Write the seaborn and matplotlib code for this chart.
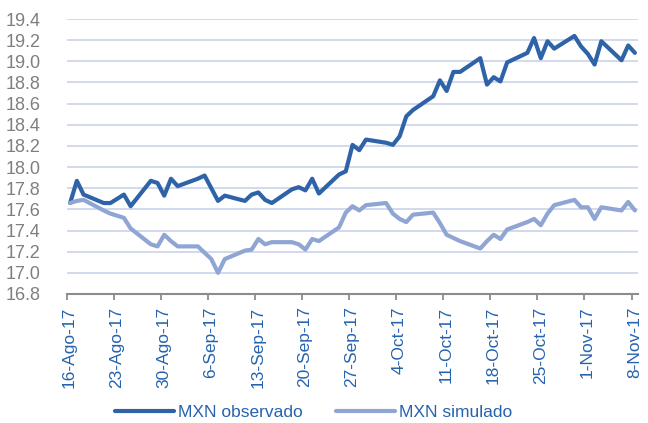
import pandas as pd
import matplotlib
matplotlib.use("Agg")
import matplotlib.pyplot as plt
import matplotlib.transforms as mtransforms
import seaborn as sns

# business days shown in the chart
dates = pd.to_datetime([
    "2017-08-16", "2017-08-17", "2017-08-18", "2017-08-21", "2017-08-22", "2017-08-23",
    "2017-08-24", "2017-08-25", "2017-08-28", "2017-08-29", "2017-08-30", "2017-08-31",
    "2017-09-01", "2017-09-04", "2017-09-05", "2017-09-06", "2017-09-07", "2017-09-08",
    "2017-09-11", "2017-09-12", "2017-09-13", "2017-09-14", "2017-09-15", "2017-09-18",
    "2017-09-19", "2017-09-20", "2017-09-21", "2017-09-22", "2017-09-25", "2017-09-26",
    "2017-09-27", "2017-09-28", "2017-09-29", "2017-10-02", "2017-10-03", "2017-10-04",
    "2017-10-05", "2017-10-06", "2017-10-09", "2017-10-10", "2017-10-11", "2017-10-12",
    "2017-10-13", "2017-10-16", "2017-10-17", "2017-10-18", "2017-10-19", "2017-10-20",
    "2017-10-23", "2017-10-24", "2017-10-25", "2017-10-26", "2017-10-27", "2017-10-30",
    "2017-10-31", "2017-11-01", "2017-11-02", "2017-11-03", "2017-11-06", "2017-11-07",
    "2017-11-08",
])

observado = [
    17.66, 17.87, 17.74, 17.66, 17.66, 17.70,
    17.74, 17.63, 17.87, 17.85, 17.73, 17.89,
    17.82, 17.89, 17.92, 17.80, 17.68, 17.73,
    17.68, 17.74, 17.76, 17.69, 17.66, 17.79,
    17.81, 17.78, 17.89, 17.75, 17.93, 17.96,
    18.21, 18.16, 18.26, 18.23, 18.21, 18.29,
    18.48, 18.54, 18.67, 18.82, 18.72, 18.90,
    18.90, 19.03, 18.78, 18.85, 18.81, 18.99,
    19.08, 19.22, 19.03, 19.19, 19.12, 19.24,
    19.14, 19.07, 18.97, 19.19, 19.01, 19.15,
    19.08,
]

simulado = [
    17.66, 17.68, 17.69, 17.59, 17.56, 17.54,
    17.52, 17.42, 17.27, 17.25, 17.36, 17.30,
    17.25, 17.25, 17.19, 17.13, 17.00, 17.13,
    17.21, 17.22, 17.32, 17.27, 17.29, 17.29,
    17.27, 17.22, 17.32, 17.30, 17.43, 17.57,
    17.63, 17.59, 17.64, 17.66, 17.56, 17.51,
    17.48, 17.55, 17.57, 17.47, 17.36, 17.33,
    17.30, 17.23, 17.30, 17.36, 17.32, 17.41,
    17.48, 17.51, 17.45, 17.56, 17.64, 17.69,
    17.62, 17.62, 17.51, 17.62, 17.59, 17.67,
    17.59,
]

tick_dates = pd.date_range("2017-08-16", "2017-11-08", freq="7D")
tick_labels = ["16-Ago-17", "23-Ago-17", "30-Ago-17", "6-Sep-17", "13-Sep-17",
               "20-Sep-17", "27-Sep-17", "4-Oct-17", "11-Oct-17", "18-Oct-17",
               "25-Oct-17", "1-Nov-17", "8-Nov-17"]
y_ticks = [16.8, 17.0, 17.2, 17.4, 17.6, 17.8, 18.0, 18.2, 18.4, 18.6, 18.8, 19.0, 19.2, 19.4]

sns.set_theme(style="white")
plt.rcParams["font.family"] = ["Liberation Sans", "DejaVu Sans"]

dark = "#2F63A8"
light = "#8FA5D3"
text_blue = "#2563AE"

# points sit in the middle of each day, like the source's date axis
df = pd.DataFrame({
    "fecha": list(dates + pd.Timedelta(hours=12)) * 2,
    "valor": observado + simulado,
    "serie": ["MXN observado"] * len(dates) + ["MXN simulado"] * len(dates),
})

fig = plt.figure(figsize=(6.48, 4.23), dpi=100)
ax = fig.add_axes([0.103, 0.305, 0.882, 0.65])

sns.lineplot(data=df, x="fecha", y="valor", hue="serie",
             palette={"MXN observado": dark, "MXN simulado": light},
             linewidth=3.0, ax=ax, legend=False)

ax.set_xlim(pd.Timestamp("2017-08-16"), pd.Timestamp("2017-11-09"))
ax.set_ylim(16.8, 19.4)
ax.set_yticks(y_ticks)
ax.set_yticklabels([f"{v:.1f}" for v in y_ticks])
ax.set_xticks(tick_dates)
ax.set_xticklabels(tick_labels, rotation=90, va="top", ha="center")
ax.set_xlabel("")
ax.set_ylabel("")

ax.grid(axis="y", color="#C8D0E8", linewidth=1.1)
ax.set_axisbelow(True)
for s in ["top", "right", "left"]:
    ax.spines[s].set_visible(False)
ax.spines["bottom"].set_color("#8C8C8C")
ax.spines["bottom"].set_linewidth(1.5)

ax.tick_params(axis="y", length=0, pad=19, labelsize=13, labelcolor="#7F7F7F")
ax.tick_params(axis="x", length=4, width=1.3, color="#8C8C8C", pad=5,
               labelsize=12.5, labelcolor=text_blue, bottom=True)
shift = mtransforms.ScaledTranslation(2 / 72, 0, fig.dpi_scale_trans)
for lab in ax.get_xticklabels():
    lab.set_transform(lab.get_transform() + shift)

handles = [plt.Line2D([], [], color=dark, linewidth=3.0),
           plt.Line2D([], [], color=light, linewidth=3.0)]
leg = fig.legend(handles, ["MXN observado", "MXN simulado"], loc="center",
                 bbox_to_anchor=(0.484, 0.026), ncol=2, frameon=False,
                 fontsize=12.5, handlelength=3.4, handletextpad=0.25,
                 columnspacing=1.9)
for t in leg.get_texts():
    t.set_color(text_blue)

fig.savefig("out.png", dpi=100)
